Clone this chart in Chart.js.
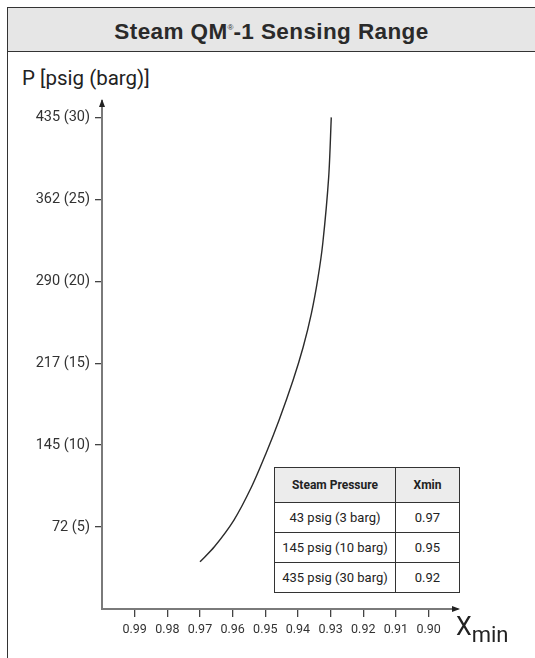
<!DOCTYPE html>
<html>
<head>
<meta charset="utf-8">
<script src="https://cdn.jsdelivr.net/npm/chart.js@4/dist/chart.umd.min.js"></script>
<style>
  html, body { margin: 0; padding: 0; width: 535px; height: 658px; overflow: hidden; background: #fff; }
  body { position: relative; font-family: Roboto, 'Liberation Sans', sans-serif; color: #222; }
  #frame { position: absolute; left: 7px; top: 7px; width: 560px; height: 700px;
           border-left: 1.5px solid #333; border-top: 1.5px solid #333; }
  #header { position: absolute; left: 0; top: 0; width: 100%; height: 43px; background: #e6e6e6;
            border-bottom: 1.5px solid #333; }
  #title { position: absolute; left: 8px; top: 15px; width: 527px; text-align: center; line-height: 26px;
           font-family: 'Liberation Sans', Arial, sans-serif; font-weight: bold; font-size: 22.5px;
           letter-spacing: 0.4px; color: #2a2a2a; }
  #title sup { font-size: 8px; vertical-align: 9px; font-weight: normal; letter-spacing: 0; }
  #ylabel { position: absolute; left: 22px; top: 66px; font-size: 20.5px; color: #222; }
  #xlabel { position: absolute; left: 456px; top: 612px; font-size: 25px; color: #222; }
  #xlabel sub { font-size: 22px; vertical-align: -7px; }
  canvas { position: absolute; left: 0; top: 0; }
  #tbl { position: absolute; left: 274px; top: 467px; border-collapse: collapse; background: #fff;
         border: 1.5px solid #333; font-size: 13px; color: #222; }
  #tbl td, #tbl th { border: 1px solid #333; text-align: center; padding: 0; height: 29px; }
  #tbl th { background: #ececec; font-weight: bold; height: 34px; font-size: 12px; }
</style>
</head>
<body>
<div id="frame"><div id="header"></div></div>
<div id="title">Steam QM<sup>®</sup>-1 Sensing Range</div>
<div id="ylabel">P [psig (barg)]</div>
<canvas id="chart" width="535" height="658"></canvas>
<table id="tbl"></table>
<div id="xlabel">X<sub>min</sub></div>
<script>
// curve: Xmin (reversed axis) vs pressure in barg
const curveX = [0.9700, 0.9656, 0.9596, 0.9542, 0.9498, 0.9458, 0.9415, 0.9384, 0.9359, 0.9339, 0.9324, 0.9306, 0.9298];
const curveY = [2.88, 3.80, 5.43, 7.46, 9.49, 11.52, 13.96, 15.99, 18.03, 20.18, 22.32, 26.34, 30.0];

const xTicks = [0.99, 0.98, 0.97, 0.96, 0.95, 0.94, 0.93, 0.92, 0.91, 0.90];
const xTickLabels = ['0.99', '0.98', '0.97', '0.96', '0.95', '0.94', '0.93', '0.92', '0.91', '0.90'];
const yTicks = [5, 10, 15, 20, 25, 30];
const yTickLabels = ['72 (5)', '145 (10)', '217 (15)', '290 (20)', '362 (25)', '435 (30)'];

const tableHead = ['Steam Pressure', 'Xmin'];
const tablePressure = ['43 psig (3 barg)', '145 psig (10 barg)', '435 psig (30 barg)'];
const tableXmin = ['0.97', '0.95', '0.92'];

// table
const tbl = document.getElementById('tbl');
let html = '<tr><th style="width:120px">' + tableHead[0] + '</th><th style="width:63px">' + tableHead[1] + '</th></tr>';
tablePressure.forEach((p, i) => {
  html += '<tr><td>' + p + '</td><td>' + tableXmin[i] + '</td></tr>';
});
tbl.innerHTML = html;

const arrows = {
  id: 'arrows',
  afterDraw(chart) {
    const { ctx, chartArea: a } = chart;
    ctx.save();
    ctx.fillStyle = '#222';
    ctx.beginPath();
    ctx.moveTo(a.left, a.top - 2);
    ctx.lineTo(a.left - 3, a.top + 6);
    ctx.lineTo(a.left + 3, a.top + 6);
    ctx.closePath();
    ctx.fill();
    ctx.beginPath();
    ctx.moveTo(a.right + 2, a.bottom);
    ctx.lineTo(a.right - 6, a.bottom - 3);
    ctx.lineTo(a.right - 6, a.bottom + 3);
    ctx.closePath();
    ctx.fill();
    ctx.restore();
  }
};

new Chart(document.getElementById('chart'), {
  type: 'line',
  data: {
    datasets: [{
      data: curveX.map((x, i) => ({ x, y: curveY[i] })),
      borderColor: '#2b2b2b',
      borderWidth: 1.4,
      pointRadius: 0,
      tension: 0.3,
      fill: false
    }]
  },
  options: {
    responsive: false,
    animation: false,
    layout: { padding: { left: 0, right: 77, top: 101, bottom: 0 } },
    plugins: { legend: { display: false }, tooltip: { enabled: false } },
    scales: {
      x: {
        type: 'linear',
        reverse: true,
        min: 0.891,
        max: 1.0,
        afterBuildTicks: s => { s.ticks = xTicks.map(v => ({ value: v })); },
        afterFit: s => { s.height = 49; },
        ticks: {
          callback: (v, i) => xTickLabels[i],
          color: '#333',
          font: { family: 'Roboto, sans-serif', size: 12.5 },
          padding: 5,
          maxRotation: 0,
          autoSkip: false
        },
        grid: { drawOnChartArea: false, drawTicks: true, tickLength: 8, color: '#444', lineWidth: 1.3 },
        border: { display: true, color: '#7a7a7a', width: 2 }
      },
      y: {
        type: 'linear',
        min: 0,
        max: 31,
        afterBuildTicks: s => { s.ticks = yTicks.map(v => ({ value: v })); },
        afterFit: s => { s.width = 102; },
        ticks: {
          callback: (v, i) => yTickLabels[i],
          color: '#333',
          font: { family: 'Roboto, sans-serif', size: 14.5 },
          padding: 5,
          autoSkip: false
        },
        grid: { drawOnChartArea: false, drawTicks: true, tickLength: 7, color: '#444', lineWidth: 1.3 },
        border: { display: true, color: '#7a7a7a', width: 2 }
      }
    }
  },
  plugins: [arrows]
});
</script>
</body>
</html>
